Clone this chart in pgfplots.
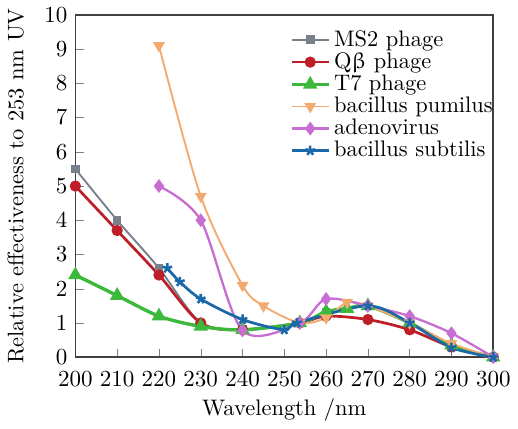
\documentclass[border=0pt]{standalone}
\usepackage{pgfplots}
\usepackage{upgreek}
\pgfplotsset{compat=1.18}
\definecolor{cgray}{RGB}{120,128,140}
\definecolor{cred}{RGB}{190,30,40}
\definecolor{cgreen}{RGB}{60,185,60}
\definecolor{corange}{RGB}{242,170,110}
\definecolor{cpurple}{RGB}{200,110,210}
\definecolor{cblue}{RGB}{25,105,170}
\begin{document}
\fontsize{10.7}{13}\selectfont
\begin{tikzpicture}
\begin{axis}[
    scale only axis,
    width=199pt, height=163pt,
    xmin=200, xmax=300, ymin=0, ymax=10,
    xtick={200,210,...,300}, ytick={0,1,...,10},
    tick align=inside, xtick pos=bottom, ytick pos=left,
    major tick length=4pt,
    xticklabel style={yshift=-3pt},
    xlabel={Wavelength /nm},
    ylabel={Relative effectiveness to 253 nm UV},
    xlabel style={yshift=1.5pt},
    ylabel style={yshift=2.5pt},
    axis line style={thick, black!75},
    legend style={draw=none, fill=none, at={(1,0.975)}, xshift=3pt, anchor=north east,
                  row sep=-2.5pt, inner sep=1pt},
    legend cell align=left,
    every axis plot/.append style={smooth, tension=0.5},
]
\addplot[cgray, line width=0.9pt, mark=square*, mark size=1.6pt] coordinates {
 (200,5.5) (210,4.0) (220,2.6) (230,1.0) (240,0.8) (253.7,1.0) (260,1.3) (270,1.5) (280,1.0) (290,0.3) (300,0.0)};
\addlegendentry{MS2 phage}
\addplot[cred, line width=1.3pt, mark=*, mark size=2pt] coordinates {
 (200,5.0) (210,3.7) (220,2.4) (230,1.0) (240,0.8) (253.7,1.0) (260,1.2) (270,1.1) (280,0.8) (290,0.3) (300,0.0)};
\addlegendentry{Q$\upbeta$ phage}
\addplot[cgreen, line width=1.6pt, mark=triangle*, mark size=2.4pt] coordinates {
 (200,2.4) (210,1.8) (220,1.2) (230,0.9) (240,0.8) (253.7,1.0) (260,1.33) (265,1.42) (270,1.5) (280,1.0) (290,0.35) (300,0.0)};
\addlegendentry{T7 phage}
\addplot[corange, line width=0.9pt, mark=triangle*, mark options={rotate=180}, mark size=2.4pt] coordinates {
 (220,9.1) (230,4.7) (240,2.1) (245,1.5) (253.7,1.0) (260,1.15) (265,1.6) (270,1.5) (280,1.0) (290,0.4) (300,0.0)};
\addlegendentry{bacillus pumilus}
\addplot[cpurple, line width=1.1pt, mark=diamond*, mark size=2.4pt] coordinates {
 (220,5.0) (230,4.0) (240,0.78) (253.7,1.0) (260,1.7) (270,1.5) (280,1.2) (290,0.7) (300,0.0)};
\addlegendentry{adenovirus}
\addplot[cblue, line width=1.3pt, mark=star, mark size=2.4pt, mark options={line width=1.2pt}] coordinates {
 (222,2.6) (225,2.2) (230,1.7) (240,1.1) (250,0.8) (253,1.0) (270,1.5) (280,1.0) (290,0.28) (300,0.0)};
\addlegendentry{bacillus subtilis}
\end{axis}
\end{tikzpicture}
\end{document}
